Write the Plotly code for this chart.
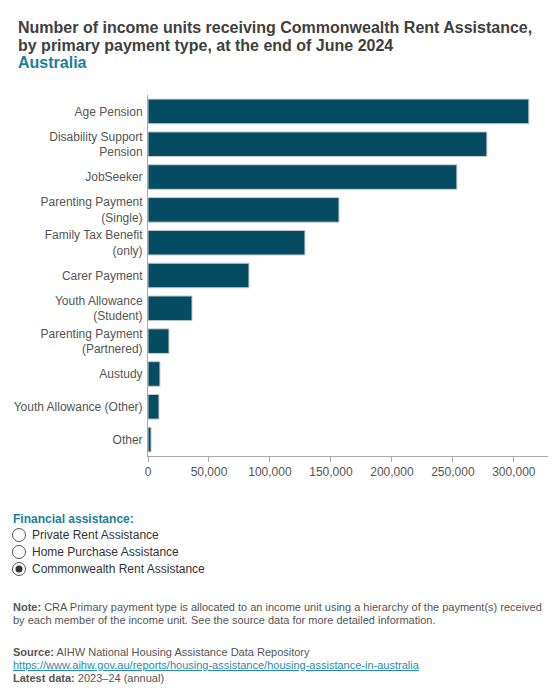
import plotly.graph_objects as go

# payment types, top to bottom as drawn
categories = [
    "Age Pension",
    "Disability Support<br>Pension",
    "JobSeeker",
    "Parenting Payment<br>(Single)",
    "Family Tax Benefit<br>(only)",
    "Carer Payment",
    "Youth Allowance<br>(Student)",
    "Parenting Payment<br>(Partnered)",
    "Austudy",
    "Youth Allowance (Other)",
    "Other",
]
income_units = [312300, 277900, 253300, 156600, 128700, 82800, 36100, 17200, 9800, 9000, 2500]

tick_vals = [0, 50000, 100000, 150000, 200000, 250000, 300000]
tick_text = ["0", "50,000", "100,000", "150,000", "200,000", "250,000", "300,000"]

radio_options = ["Private Rent Assistance", "Home Purchase Assistance", "Commonwealth Rent Assistance"]
radio_selected = 2

# page has an 8px body margin, so the figure is drawn at (8, 8)
OFF = 8
W, H = 544, 684
L, R, T, B = 148 - OFF, 4, 95 - OFF, H - (456 - OFF)
FONT = "Arial, Liberation Sans, sans-serif"
GREY = "#555555"
TEAL = "#1a8199"


def px(x):
    # reference page pixel -> paper x
    return (x - OFF - L) / (W - L - R)


def py(y):
    # reference page pixel -> paper y
    return (H - B - (y - OFF)) / (H - T - B)


fig = go.Figure(go.Bar(
    x=income_units,
    y=categories,
    orientation="h",
    marker=dict(color="#054c63", line=dict(color="#cccccc", width=1)),
    hoverinfo="x+y",
))

fig.update_layout(
    width=W, height=H,
    margin=dict(l=L, r=R, t=T, b=B, pad=0),
    paper_bgcolor="white", plot_bgcolor="white",
    font=dict(family=FONT, color=GREY, size=12),
    showlegend=False,
    bargap=0.25,
    xaxis=dict(
        range=[0, 328000], tickvals=tick_vals, ticktext=tick_text,
        showgrid=False, zeroline=False, showline=True, linecolor="#aaaaaa",
        ticks="outside", ticklen=5, tickcolor="#aaaaaa",
        tickfont=dict(size=12, color=GREY), fixedrange=True,
    ),
    yaxis=dict(
        autorange="reversed", showgrid=False, zeroline=False,
        showline=True, linecolor="#aaaaaa", ticks="", ticklabelstandoff=2,
        tickfont=dict(size=12, color=GREY), fixedrange=True,
    ),
)

ann = []
title_lines = [
    ("<b>Number of income units receiving Commonwealth Rent Assistance,</b>", 27, "#404040"),
    ("<b>by primary payment type, at the end of June 2024</b>", 46, "#404040"),
    ("<b>Australia</b>", 63, TEAL),
]
for txt, y, col in title_lines:
    ann.append(dict(text=txt, x=px(16), y=py(y), xanchor="left", yanchor="middle",
                    font=dict(size=16, color=col, family=FONT)))

ann.append(dict(text="<b>Financial assistance:</b>", x=px(11), y=py(519),
                xanchor="left", yanchor="middle", font=dict(size=12, color=TEAL, family=FONT)))

shapes = []
for i, opt in enumerate(radio_options):
    cy = 535 + 17 * i
    ann.append(dict(text=opt, x=px(30), y=py(cy), xanchor="left", yanchor="middle",
                    font=dict(size=12, color="#333333", family=FONT)))
    r = 6.5
    shapes.append(dict(type="circle", xref="paper", yref="paper",
                       x0=px(19 - r), x1=px(19 + r), y0=py(cy + r), y1=py(cy - r),
                       line=dict(color="#555555", width=1), fillcolor="white"))
    if i == radio_selected:
        r2 = 3.5
        shapes.append(dict(type="circle", xref="paper", yref="paper",
                           x0=px(19 - r2), x1=px(19 + r2), y0=py(cy + r2), y1=py(cy - r2),
                           line=dict(color="#333333", width=0), fillcolor="#333333"))

foot = [
    ("<b>Note:</b> CRA Primary payment type is allocated to an income unit using a hierarchy of the payment(s) received", 607),
    ("by each member of the income unit. See the source data for more detailed information.", 620),
    ("<b>Source:</b> AIHW National Housing Assistance Data Repository", 652),
    ("<a href='https://www.aihw.gov.au/reports/housing-assistance/housing-assistance-in-australia' "
     "style='color:#2a8cb0'><u>https://www.aihw.gov.au/reports/housing-assistance/housing-assistance-in-australia</u></a>", 665),
    ("<b>Latest data:</b> 2023–24 (annual)", 678),
]
for txt, y in foot:
    ann.append(dict(text=txt, x=px(11), y=py(y), xanchor="left", yanchor="middle",
                    font=dict(size=11, color=GREY, family=FONT)))

for a in ann:
    a.update(xref="paper", yref="paper", showarrow=False, align="left")

fig.update_layout(annotations=ann, shapes=shapes)

fig.write_html("out.html")
